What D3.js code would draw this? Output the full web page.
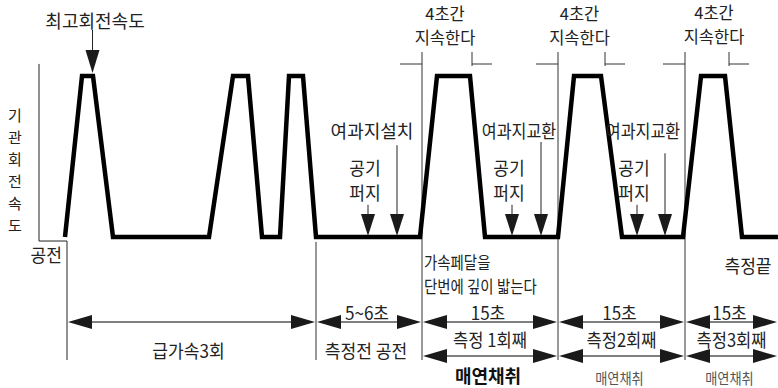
<!DOCTYPE html>
<html>
<head>
<meta charset="utf-8">
<script src="https://cdn.jsdelivr.net/npm/d3@7"></script>
<style>
  body { margin: 0; background: #fff; }
  text { font-family: "Noto Sans CJK KR", "Noto Sans", sans-serif; fill: #222; }
</style>
</head>
<body>
<script>
// engine speed trace: time (arbitrary units from the axis) and level (0 = idle, 1 = max speed)
var traceT     = [26, 43, 54, 74, 170, 194, 209, 223, 241, 250, 264, 277, 381, 398, 431, 446, 519, 535, 562, 583, 644, 662, 686, 703, 739];
var traceLevel = [0, 1, 1, 0, 0, 1, 1, 0, 0, 1, 1, 0, 0, 1, 1, 0, 0, 1, 1, 0, 0, 1, 1, 0, 0];

// phase boundaries on the time axis and their labels
var phaseT      = [28, 277, 383, 519, 646, 739];
var phaseTop    = ['', '5~6초', '15초', '15초', '15초'];
var phaseBottom = ['급가속3회', '측정전 공전', '', '', ''];
var runLabels    = ['측정 1회째', '측정2회째', '측정3회째'];
var sampleLabels = ['매연채취', '매연채취', '매연채취'];

// "hold 4 seconds" brackets
var holdStart = [383, 519, 646];
var holdEnd   = [433, 566, 690];

// filter / purge marks on the idle floor
var filterT      = [358, 502, 626];
var filterLabels = ['여과지설치', '여과지교환', '여과지교환'];
var filterTop    = [0.57, 0.59, 0.52];
var purgeT       = [329, 473, 598];
var purgeTop     = [0.2, 0.2, 0.2];

var yLabel = '기관회전속도';

var width = 778, height = 388;
var fs = '18px';

var svg = d3.select('body').append('svg')
    .attr('width', width)
    .attr('height', height);

//scales
var xScale = d3.scaleLinear().domain([0, 739]).range([39, 778]);
var yScale = d3.scaleLinear().domain([0, 1]).range([237, 76]);

var x0 = xScale(0);

//arrow head helper: tip at (x,y), pointing 'l','r','d'
function head(g, x, y, dir, len, half) {
    var pts;
    if (dir == 'r') pts = [[x, y], [x - len, y - half], [x - len, y + half]];
    else if (dir == 'l') pts = [[x, y], [x + len, y - half], [x + len, y + half]];
    else pts = [[x, y], [x - half, y - len], [x + half, y - len]];
    g.append('path')
        .attr('d', 'M' + pts.join('L') + 'Z')
        .attr('fill', '#1a1a1a');
}

//centered label, optionally squeezed horizontally
function label(g, x, y, txt, size, sx, anchor) {
    sx = sx || 1;
    return g.append('text')
        .attr('transform', 'translate(' + x + ',' + y + ') scale(' + sx + ',1)')
        .attr('text-anchor', anchor || 'middle')
        .attr('dominant-baseline', 'central')
        .style('font-size', size || fs)
        .text(txt);
}

//axis frame
var frame = d3.path();
frame.moveTo(x0, yScale(1.075));
frame.lineTo(x0, yScale(-0.025));
frame.lineTo(xScale(phaseT[0]), yScale(-0.025));
frame.lineTo(xScale(phaseT[0]), 360);
svg.append('path').attr('d', frame.toString())
    .attr('fill', 'none').attr('stroke', '#222').attr('stroke-width', 1);

//vertical axis label, one char per row
var yl = svg.append('g');
yLabel.split('').forEach(function(c, i) {
    label(yl, 15, 114 + i * 22, c, '15px', 1);
});
label(svg, 62, 254, '공전', fs, 0.95, 'end');

//phase boundary lines
svg.append('g').selectAll('line')
    .data(phaseT.slice(1, 5))
    .enter().append('line')
    .attr('x1', function(d) { return xScale(d); })
    .attr('x2', function(d) { return xScale(d); })
    .attr('y1', function(d, i) { return i == 0 ? yScale(-0.03) : 52; })
    .attr('y2', 360)
    .attr('stroke', '#333').attr('stroke-width', 1);

//hold brackets
var hold = svg.append('g');
holdStart.forEach(function(s, i) {
    var a = xScale(s), b = xScale(holdEnd[i]);
    hold.append('line').attr('x1', b).attr('x2', b).attr('y1', 52).attr('y2', 66)
        .attr('stroke', '#333');
    hold.append('line').attr('x1', a - 22).attr('x2', a).attr('y1', 64).attr('y2', 64)
        .attr('stroke', '#333');
    hold.append('line').attr('x1', b).attr('x2', b + 20).attr('y1', 64).attr('y2', 64)
        .attr('stroke', '#333');
    var cx = (a + b) / 2 + (i == 2 ? 7 : -2);
    var dy = i == 2 ? -1 : 0;
    label(hold, cx, 13 + dy, '4초간', '16.5px', 1);
    label(hold, cx, 37 + dy, '지속한다', '16.5px', 1);
});

//speed trace
var line = d3.line()
    .x(function(d, i) { return xScale(traceT[i]); })
    .y(function(d) { return yScale(d); });

svg.append('path')
    .datum(traceLevel)
    .attr('d', line)
    .attr('fill', 'none')
    .attr('stroke', '#000')
    .attr('stroke-width', 4.5)
    .attr('stroke-linejoin', 'miter');

//max speed note
var notes = svg.append('g');
var peakX = xScale(traceT[2]) - 0.5;
label(notes, 95, 20, '최고회전속도', fs, 1);
notes.append('line').attr('x1', peakX).attr('x2', peakX)
    .attr('y1', 30).attr('y2', 60).attr('stroke', '#222');
head(notes, peakX, yScale(1) - 3, 'd', 23, 7);

//filter and purge arrows
filterT.forEach(function(t, i) {
    var fx = xScale(t), px = xScale(purgeT[i]);
    var tipY = yScale(0) - 1;
    notes.append('line').attr('x1', fx).attr('x2', fx)
        .attr('y1', yScale(filterTop[i])).attr('y2', tipY - 10).attr('stroke', '#222');
    head(notes, fx, tipY, 'd', 22, 7);
    label(notes, fx - (i == 0 ? 25 : 22), 130, filterLabels[i], fs, i == 0 ? 1 : 0.9);

    notes.append('line').attr('x1', px).attr('x2', px)
        .attr('y1', yScale(purgeTop[i])).attr('y2', tipY - 10).attr('stroke', '#222');
    head(notes, px, tipY, 'd', 22, 7);
    label(notes, px - 3, 167, '공기', fs, 0.95);
    label(notes, px - 3, 192, '퍼지', fs, 0.95);
});

//pedal note and end
var px0 = xScale(phaseT[2]) + 2;
label(notes, px0, 262, '가속페달을', '17px', 0.85, 'start');
label(notes, px0, 286, '단번에 깊이 밟는다', '17px', 0.85, 'start');
label(notes, 748, 265, '측정끝', fs, 0.95);

//dimension rows
function dimension(g, a, b, y) {
    g.append('line').attr('x1', a + 10).attr('x2', b - 10).attr('y1', y).attr('y2', y)
        .attr('stroke', '#555').attr('stroke-width', 1.5);
    head(g, a + 1, y, 'l', 24, 7);
    head(g, b - 1, y, 'r', 24, 7);
}

var dims = svg.append('g');
for (var i = 0; i < phaseT.length - 1; i++) {
    var a = xScale(phaseT[i]), b = xScale(phaseT[i + 1]);
    var cx = (a + b) / 2;
    dimension(dims, a, b, 322);
    if (phaseTop[i]) label(dims, cx - 2, 312, phaseTop[i], fs, 0.95);
    if (phaseBottom[i]) label(dims, cx - 3, 350, phaseBottom[i], fs, 0.95);
}

runLabels.forEach(function(lab, i) {
    var a = xScale(phaseT[i + 2]), b = xScale(phaseT[i + 3]);
    var cx = (a + b) / 2;
    dimension(dims, a, b, 356);
    label(dims, cx, 339, lab, fs, 0.92);
    var t = label(dims, cx - 2, i == 0 ? 375 : 378, sampleLabels[i],
        i == 0 ? '18px' : '15px', i == 0 ? 1 : 0.88);
    t.style('font-weight', i == 0 ? 'bold' : 'normal')
        .style('fill', i == 0 ? '#111' : '#555');
});
</script>
</body>
</html>
